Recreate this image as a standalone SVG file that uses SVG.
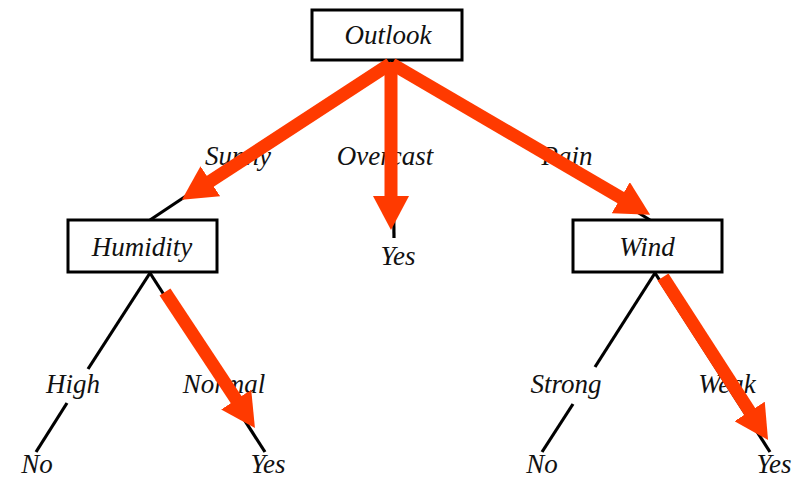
<svg xmlns="http://www.w3.org/2000/svg" width="803" height="478" viewBox="0 0 803 478">
<style>
.box{fill:#fff;stroke:#000;stroke-width:3}
.edge{stroke:#000;stroke-width:3.2;fill:none}
.hl{stroke:#ff3a00;stroke-width:13;fill:none;marker-end:url(#ah)}
text{font-family:"Liberation Serif","Times New Roman",serif;font-style:italic;font-size:27px;fill:#111;text-anchor:middle}
</style>
<defs>
<marker id="ah" markerUnits="userSpaceOnUse" markerWidth="34" markerHeight="36" refX="4" refY="18" orient="auto" viewBox="0 0 34 36">
<path d="M0,0 L34,18 L0,36 z" fill="#ff3a00"/>
</marker>
</defs>
<rect width="803" height="478" fill="#fff"/>
<g id="edges">
<line class="edge" x1="390" y1="60" x2="150" y2="220"/>
<line class="edge" x1="392" y1="60" x2="394" y2="238"/>
<line class="edge" x1="392" y1="60" x2="650" y2="220"/>
<line class="edge" x1="150" y1="273" x2="88" y2="369"/>
<line class="edge" x1="67" y1="403" x2="36" y2="452"/>
<line class="edge" x1="150" y1="273" x2="265" y2="452"/>
<line class="edge" x1="655" y1="273" x2="595" y2="367"/>
<line class="edge" x1="573" y1="404" x2="542" y2="452"/>
<line class="edge" x1="655" y1="273" x2="770" y2="452"/>
</g>
<g id="outlook"><rect class="box" x="312" y="10" width="150" height="50"/><text x="388" y="44">Outlook</text></g>
<g id="humidity"><rect class="box" x="68" y="220" width="149" height="52"/><text x="142" y="256">Humidity</text></g>
<g id="wind"><rect class="box" x="573" y="220" width="149" height="52"/><text x="647" y="256">Wind</text></g>
<g id="yes-overcast"><text x="398" y="265">Yes</text></g>
<g id="no-high"><text x="37" y="473">No</text></g>
<g id="yes-normal"><text x="268" y="473">Yes</text></g>
<g id="no-strong"><text x="542" y="473">No</text></g>
<g id="yes-weak"><text x="774" y="473">Yes</text></g>
<g id="edge-labels">
<text x="238" y="165">Sunny</text>
<text x="385" y="165">Overcast</text>
<text x="567" y="165">Rain</text>
<text x="73" y="393">High</text>
<text x="224" y="393">Normal</text>
<text x="566" y="393">Strong</text>
<text x="727" y="393">Weak</text>
</g>
<g id="highlight">
<line class="hl" x1="390" y1="64" x2="207" y2="183.4"/>
<line class="hl" x1="391" y1="62" x2="391" y2="200"/>
<line class="hl" x1="392" y1="64" x2="624.2" y2="199.7"/>
<line class="hl" x1="165" y1="292" x2="238.4" y2="403"/>
<line class="hl" x1="663" y1="277" x2="751.8" y2="414.8"/>
</g>
</svg>
